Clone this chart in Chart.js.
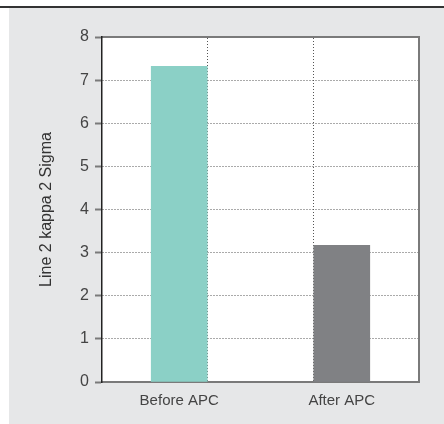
<!DOCTYPE html>
<html lang="en">
<head>
    <meta charset="UTF-8">
    <title>Line 2 kappa 2 Sigma</title>
    <script src="https://cdn.jsdelivr.net/npm/chart.js"></script>
    <style>
        body { margin: 0; background: #fff; }
        #wrap { width: 444px; height: 424px; }
    </style>
</head>
<body>
    <div id="wrap"><canvas id="kappaChart" width="444" height="424"></canvas></div>

    <script>
        const categories = ["Before APC", "After APC"];
        const sigmaValues = [7.32, 3.17];
        const barColors = ["#8bd0c6", "#808184"];
        const yTicks = [0, 1, 2, 3, 4, 5, 6, 7, 8];

        // grey panel + dark rule at the top
        const panelBackground = {
            id: "panelBackground",
            beforeDraw(chart) {
                const ctx = chart.ctx;
                const a = chart.chartArea;
                ctx.save();
                ctx.fillStyle = "#fff";
                ctx.fillRect(0, 0, chart.width, chart.height);
                ctx.fillStyle = "#e6e7e8";
                ctx.fillRect(9, 8, chart.width - 9, chart.height - 8);
                ctx.fillStyle = "#333";
                ctx.fillRect(0, 6, chart.width, 2);
                ctx.fillStyle = "#fff";
                ctx.fillRect(a.left, a.top, a.right - a.left, a.bottom - a.top);
                ctx.restore();
            }
        };

        const tickFont = { family: "'Liberation Sans', Arial, sans-serif", size: 16 };
        const catFont = { family: "'Liberation Sans', Arial, sans-serif", size: 15 };

        new Chart(document.getElementById("kappaChart"), {
            type: "bar",
            data: {
                datasets: [{
                    data: sigmaValues.map((v, i) => ({ x: i, y: v })),
                    backgroundColor: barColors,
                    barThickness: 56,
                    xAxisID: "x",
                    yAxisID: "y"
                }]
            },
            options: {
                responsive: false,
                animation: false,
                layout: { padding: { left: 37, right: 25, top: 0, bottom: 0 } },
                plugins: { legend: { display: false }, tooltip: { enabled: false } },
                scales: {
                    x: {
                        type: "linear",
                        position: "bottom",
                        offset: false,
                        min: -0.475,
                        max: 1.475,
                        afterBuildTicks: s => { s.ticks = categories.map((c, i) => ({ value: i })); },
                        grid: { display: false, offset: false },
                        border: { color: "#7a7a7a", width: 2 },
                        ticks: {
                            color: "#444",
                            font: catFont,
                            padding: 2,
                            callback: v => categories[v]
                        },
                        afterFit: s => { s.height = 42; }
                    },
                    xTop: {
                        type: "linear",
                        position: "top",
                        offset: false,
                        min: 0,
                        max: 3,
                        ticks: { display: false, stepSize: 1 },
                        grid: {
                            offset: false,
                            color: c => (c.tick && c.tick.value > 0 && c.tick.value < 3) ? "#555" : "rgba(0,0,0,0)",
                            lineWidth: 1,
                            drawTicks: false
                        },
                        border: { color: "#7a7a7a", width: 2, dash: [1, 2] },
                        afterFit: s => { s.height = 37; }
                    },
                    y: {
                        position: "left",
                        min: 0,
                        max: 8,
                        afterBuildTicks: s => { s.ticks = yTicks.map(v => ({ value: v })); },
                        grid: {
                            color: "#555",
                            lineWidth: 1,
                            tickLength: 7,
                            tickColor: "#7a7a7a",
                            tickWidth: 2,
                            tickBorderDash: []
                        },
                        border: { color: "#222", width: 1.5, dash: [1, 2] },
                        ticks: { color: "#444", font: tickFont, padding: 6 },
                        title: {
                            display: true,
                            text: "Line 2 kappa 2 Sigma",
                            color: "#333",
                            font: tickFont,
                            padding: 0
                        },
                        afterFit: s => { s.width = 65; }
                    },
                    yRight: {
                        position: "right",
                        min: 0,
                        max: 8,
                        grid: { display: false },
                        border: { color: "#7a7a7a", width: 2 },
                        ticks: { display: false },
                        afterFit: s => { s.width = 0; }
                    }
                }
            },
            plugins: [panelBackground]
        });
    </script>
</body>
</html>
